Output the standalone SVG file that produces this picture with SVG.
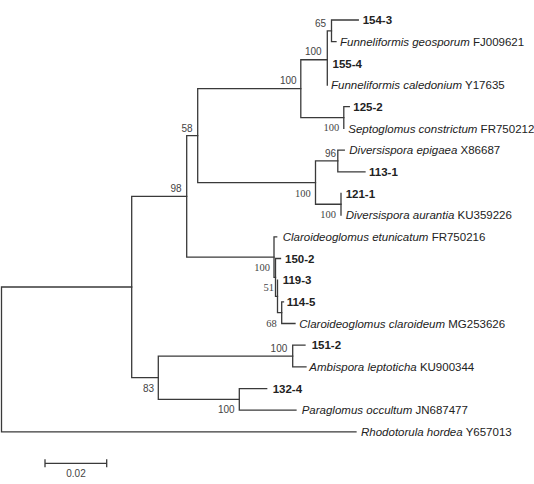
<svg xmlns="http://www.w3.org/2000/svg" width="534" height="484" viewBox="0 0 534 484">
<style>
.br{fill:none;stroke:#3a3a3a;stroke-width:1.3;stroke-linecap:square}
.lf{font-family:"Liberation Sans",Arial,sans-serif;font-size:11.5px;fill:#222}
.it{font-style:italic}
.bd{font-weight:bold}
.bs{font-family:"Liberation Sans",Arial,sans-serif;font-size:10px;fill:#444;text-anchor:end}
.bsr{font-family:"Liberation Serif","Times New Roman",serif;font-size:10.5px;fill:#444;text-anchor:end}
.sc{font-family:"Liberation Sans",Arial,sans-serif;font-size:10px;fill:#444;text-anchor:middle}
</style>
<rect width="534" height="484" fill="#fff"/>
<g id="connectors">
<!-- root -->
<path class="br" d="M1.5,287 V431.9 H356 M1.5,287 H131.7"/>
<!-- big node -->
<path class="br" d="M131.7,196.4 V377.7 M131.7,196.4 H186.7 M131.7,377.7 H158.3"/>
<!-- node 98 -->
<path class="br" d="M186.7,135.6 V257.1 M186.7,135.6 H197.7 M186.7,257.1 H274"/>
<!-- node 58 -->
<path class="br" d="M197.7,88.65 V182.6 M197.7,88.65 H300.8 M197.7,182.6 H315.5"/>
<!-- top 100 -->
<path class="br" d="M300.8,59.75 V117.55 M300.8,59.75 H327.3 M300.8,117.55 H343.8"/>
<!-- Funneliformis 100 -->
<path class="br" d="M327.3,30.85 V85 M327.3,30.85 H331.5"/>
<!-- node 65 -->
<path class="br" d="M331.5,20 V41.7 M331.5,20 H358.3 M331.5,41.7 H336"/>
<!-- Septoglomus -->
<path class="br" d="M343.8,106.7 V128.4 M343.8,106.7 H349.3"/>
<!-- Diversispora -->
<path class="br" d="M315.5,160.95 V204.25 M315.5,160.95 H337.8 M315.5,204.25 H341"/>
<path class="br" d="M337.8,150.1 V171.8 M337.8,150.1 H344.3 M337.8,171.8 H365"/>
<path class="br" d="M341,193.4 V215.1"/>
<!-- Claroideoglomus -->
<path class="br" d="M274,236.8 V277.45 M274,236.8 H276.7 M274,277.45 H275.5"/>
<path class="br" d="M275.5,258.5 V296.4 M275.5,258.5 H280.5 M275.5,296.4 H277.5"/>
<path class="br" d="M277.5,280.2 V312.65 M277.5,312.65 H281.7"/>
<path class="br" d="M281.7,301.8 V323.5 M281.7,301.8 H283.5 M281.7,323.5 H295"/>
<!-- node 83 -->
<path class="br" d="M158.3,356.05 V399.4 M158.3,356.05 H292.7 M158.3,399.4 H239.3"/>
<path class="br" d="M292.7,345.2 V366.9 M292.7,345.2 H305 M292.7,366.9 H306"/>
<path class="br" d="M239.3,388.6 V410.2 M239.3,388.6 H266.7 M239.3,410.2 H296"/>
</g>
<g id="scale">
<path class="br" d="M45,463.3 H106.7 M45,460 V466.6 M106.7,460 V466.6"/>
<text class="sc" x="76" y="477">0.02</text>
</g>
<g id="leaf-154-3"><text class="lf bd" x="362.7" y="24.2">154-3</text></g>
<g id="leaf-geosporum"><text class="lf" x="340" y="45.9"><tspan class="it">Funneliformis geosporum</tspan> FJ009621</text></g>
<g id="leaf-155-4"><text class="lf bd" x="332.5" y="67.6">155-4</text></g>
<g id="leaf-caledonium"><text class="lf" x="331" y="89.2"><tspan class="it">Funneliformis caledonium</tspan> Y17635</text></g>
<g id="leaf-125-2"><text class="lf bd" x="353.3" y="110.9">125-2</text></g>
<g id="leaf-constrictum"><text class="lf" x="348.3" y="132.6"><tspan class="it">Septoglomus constrictum</tspan> FR750212</text></g>
<g id="leaf-epigaea"><text class="lf" x="349.3" y="154.3"><tspan class="it">Diversispora epigaea</tspan> X86687</text></g>
<g id="leaf-113-1"><text class="lf bd" x="369" y="176">113-1</text></g>
<g id="leaf-121-1"><text class="lf bd" x="345.7" y="197.6">121-1</text></g>
<g id="leaf-aurantia"><text class="lf" x="345.7" y="219.3"><tspan class="it">Diversispora aurantia</tspan> KU359226</text></g>
<g id="leaf-etunicatum"><text class="lf" x="282.7" y="241"><tspan class="it">Claroideoglomus etunicatum</tspan> FR750216</text></g>
<g id="leaf-150-2"><text class="lf bd" x="285" y="262.7">150-2</text></g>
<g id="leaf-119-3"><text class="lf bd" x="282.7" y="284.4">119-3</text></g>
<g id="leaf-114-5"><text class="lf bd" x="286.7" y="306">114-5</text></g>
<g id="leaf-claroideum"><text class="lf" x="299.3" y="327.7"><tspan class="it">Claroideoglomus claroideum</tspan> MG253626</text></g>
<g id="leaf-151-2"><text class="lf bd" x="311.7" y="349.4">151-2</text></g>
<g id="leaf-leptoticha"><text class="lf" x="309.3" y="371.1"><tspan class="it">Ambispora leptoticha</tspan> KU900344</text></g>
<g id="leaf-132-4"><text class="lf bd" x="272.7" y="392.8">132-4</text></g>
<g id="leaf-occultum"><text class="lf" x="301.7" y="414.4"><tspan class="it">Paraglomus occultum</tspan> JN687477</text></g>
<g id="leaf-hordea"><text class="lf" x="361" y="436.1"><tspan class="it">Rhodotorula hordea</tspan> Y657013</text></g>
<g id="bootstrap">
<text class="bs" x="326" y="27.3">65</text>
<text class="bs" x="321.7" y="55">100</text>
<text class="bs" x="296.7" y="84.3">100</text>
<text class="bsr" x="339.3" y="130.5">100</text>
<text class="bs" x="192.7" y="131.7">58</text>
<text class="bs" x="336" y="157">96</text>
<text class="bsr" x="310.7" y="196.5">100</text>
<text class="bsr" x="336" y="217.5">100</text>
<text class="bs" x="181.7" y="192.3">98</text>
<text class="bsr" x="270" y="270.7">100</text>
<text class="bsr" x="274" y="291">51</text>
<text class="bsr" x="276.7" y="326.7">68</text>
<text class="bs" x="287.3" y="351.7">100</text>
<text class="bs" x="154" y="391.7">83</text>
<text class="bs" x="234.7" y="413.3">100</text>
</g>
</svg>
